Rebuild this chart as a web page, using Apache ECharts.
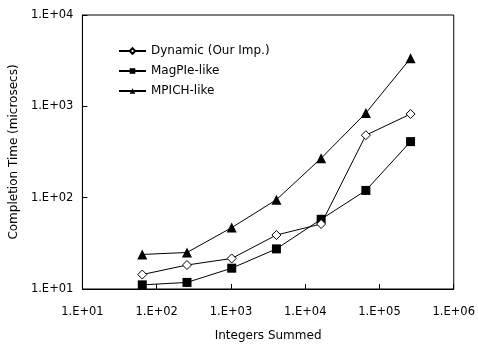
<!DOCTYPE html>
<html><head><meta charset="utf-8">
<script src="https://cdn.jsdelivr.net/npm/echarts@6/dist/echarts.min.js"></script>
<style>html,body{margin:0;padding:0;background:#fff}#c{width:478px;height:347px}</style>
</head><body><div id="c"></div>
<script>
const sizes = [64, 256, 1024, 4096, 16384, 65536, 262144];
const dynamicVals = [14.4, 18.3, 21.6, 39, 51.5, 483, 824];
const magpieVals = [11.1, 11.8, 16.9, 27.5, 58, 120, 411];
const mpichVals = [23.9, 25.1, 47, 95, 270, 844, 3360];
const seriesNames = ['Dynamic (Our Imp.)', 'MagPIe-like', 'MPICH-like'];
const xTitle = 'Integers Summed';
const yTitle = 'Completion Time (microsecs)';

function fmt(v){ const e = Math.round(Math.log10(v)); return '1.E+' + (e < 10 ? '0' : '') + e; }
const font = 'DejaVu Sans';
const pairs = vals => sizes.map((s,i)=>[s, vals[i]]);

const chart = echarts.init(document.getElementById('c'));
const lineStyle = {color:'#000', width:1};
chart.setOption({
  animation:false,
  backgroundColor:'#fff',
  grid:{left:82, right:22, top:15, bottom:47, show:true, borderColor:'#000', borderWidth:1, containLabel:false},
  legend:{
    orient:'vertical', left:113, top:40, padding:5, itemWidth:27, itemHeight:7, itemGap:8,
    textStyle:{fontFamily:font, fontSize:12, color:'#000'},
    data:seriesNames
  },
  xAxis:{
    type:'log', logBase:10, min:10, max:1e6,
    name:xTitle, nameLocation:'middle', nameGap:41,
    nameTextStyle:{fontFamily:font, fontSize:12, color:'#000'},
    axisLine:{lineStyle:{color:'#000', width:1}},
    axisTick:{inside:true, length:5, lineStyle:{color:'#000'}},
    minorTick:{show:false},
    splitLine:{show:false},
    axisLabel:{formatter:fmt, fontFamily:font, fontSize:11.5, color:'#000', margin:17}
  },
  yAxis:{
    type:'log', logBase:10, min:10, max:1e4,
    name:yTitle, nameLocation:'middle', nameGap:62, nameRotate:90,
    nameTextStyle:{fontFamily:font, fontSize:12, color:'#000'},
    axisLine:{lineStyle:{color:'#000', width:1}},
    axisTick:{inside:true, length:5, lineStyle:{color:'#000'}},
    splitLine:{show:false},
    axisLabel:{formatter:fmt, fontFamily:font, fontSize:11.5, color:'#000', margin:9}
  },
  series:[
    {name:seriesNames[0], type:'line', data:pairs(dynamicVals), symbol:'diamond', symbolSize:9,
     lineStyle, itemStyle:{color:'#fff', borderColor:'#000', borderWidth:1}, z:3},
    {name:seriesNames[1], type:'line', data:pairs(magpieVals), symbol:'rect', symbolSize:9,
     lineStyle, itemStyle:{color:'#000', borderColor:'#000', borderWidth:0}, z:2},
    {name:seriesNames[2], type:'line', data:pairs(mpichVals), symbol:'triangle', symbolSize:10,
     lineStyle, itemStyle:{color:'#000', borderColor:'#000', borderWidth:0}, z:2}
  ]
});
</script></body></html>
